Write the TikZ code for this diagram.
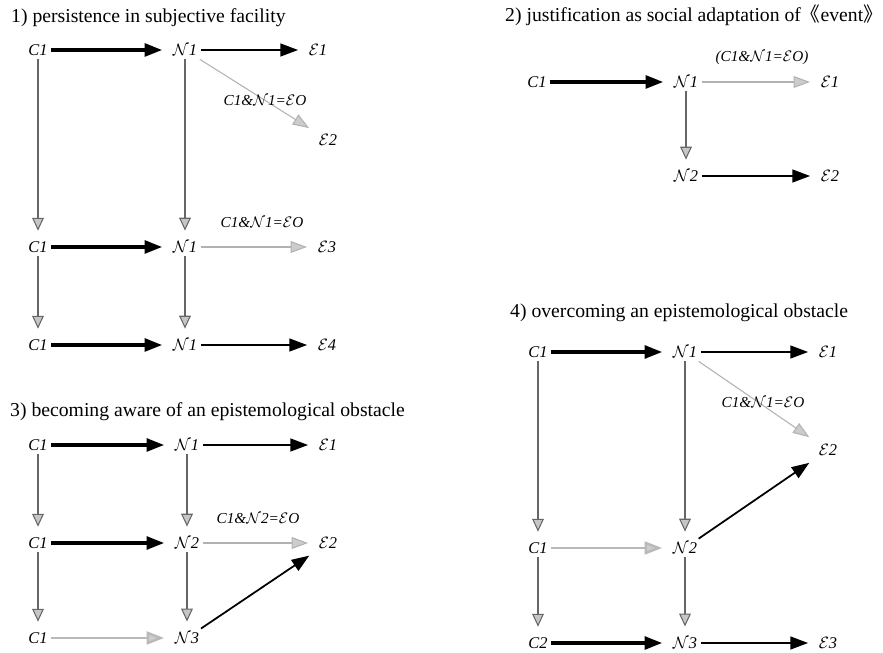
\RequirePackage{fix-cm}
\documentclass[tikz,border=0pt]{standalone}
\usepackage{fontspec}
\setmainfont{Liberation Serif}
\newfontfamily\cjk{Noto Sans CJK SC}
\usetikzlibrary{arrows.meta}

\newcommand{\calN}{\ensuremath{\mathcal{N}}}
\newcommand{\calE}{\ensuremath{\mathcal{E}}}

\tikzset{
  ttl/.style={font=\fontsize{16.8}{19}\selectfont, anchor=west, inner sep=0pt},
  lbl/.style={font=\fontsize{14}{16}\selectfont\itshape, inner sep=3pt},
  eqlbl/.style={font=\fontsize{13}{15}\selectfont\itshape, inner sep=1pt},
  base/.style={shorten >=6pt},
  boldarr/.style={base, line width=2.6pt, -{Triangle[length=15pt,width=11pt]}},
  normarr/.style={base, line width=1.1pt, -{Triangle[length=15pt,width=11pt]}},
  diagarr/.style={base, line width=1.5pt, -{Triangle[length=15pt,width=11pt]}},
  grayarr/.style={base, gray!60, line width=0.9pt, -{Triangle[length=14pt,width=10pt,fill=gray!40]}},
  grayboldarr/.style={base, gray!55, line width=2pt, -{Triangle[length=15pt,width=11pt,fill=gray!40]}},
  downarr/.style={base, black!60, line width=0.9pt, -{Triangle[length=11pt,width=10pt,fill=gray!45]}}
}

\begin{document}
\begin{tikzpicture}[x=0.03cm, y=-0.03cm]
  \useasboundingbox (0,0) rectangle (883,653);

  % 1) persistence in subjective facility
  \node[ttl] (t1) at (11,18) {1) persistence in subjective facility};
  \node[lbl] (a-c1) at (38,50) {C1};
  \node[lbl] (a-n1) at (185,50) {\calN1};
  \node[lbl] (a-e1) at (318,50) {\calE1};
  \node[lbl] (a-e2) at (328,140) {\calE2};
  \node[lbl] (a-c2) at (38,247) {C1};
  \node[lbl] (a-n2) at (185,247) {\calN1};
  \node[lbl] (a-e3) at (327,247) {\calE3};
  \node[lbl] (a-c3) at (38,345) {C1};
  \node[lbl] (a-n3) at (185,345) {\calN1};
  \node[lbl] (a-e4) at (327,345) {\calE4};
  \draw[boldarr] (a-c1) -- (a-n1);
  \draw[normarr] (a-n1) -- (a-e1);
  \draw[grayarr] (a-n1) -- (a-e2);
  \draw[downarr] (a-c1) -- (a-c2);
  \draw[downarr] (a-n1) -- (a-n2);
  \draw[boldarr] (a-c2) -- (a-n2);
  \draw[grayarr] (a-n2) -- (a-e3);
  \draw[downarr] (a-c2) -- (a-c3);
  \draw[downarr] (a-n2) -- (a-n3);
  \draw[boldarr] (a-c3) -- (a-n3);
  \draw[normarr] (a-n3) -- (a-e4);
  \node[eqlbl] (a-eq1) at (265,100) {C1\&\calN1=\calE O};
  \node[eqlbl] (a-eq2) at (262,222) {C1\&\calN1=\calE O};

  % 2) justification as social adaptation
  \node[ttl] (t2) at (505,15) {2) justification as social adaptation of{\cjk 《}event{\cjk 》}};
  \node[lbl] (b-c1) at (537,82) {C1};
  \node[lbl] (b-n1) at (686,82) {\calN1};
  \node[lbl] (b-e1) at (830,82) {\calE1};
  \node[lbl] (b-n2) at (686,176) {\calN2};
  \node[lbl] (b-e2) at (830,176) {\calE2};
  \draw[boldarr] (b-c1) -- (b-n1);
  \draw[grayarr] (b-n1) -- (b-e1);
  \draw[downarr] (b-n1) -- (b-n2);
  \draw[normarr] (b-n2) -- (b-e2);
  \node[eqlbl] (b-eq) at (762,58) {(C1\&\calN1=\calE O)};

  % 3) becoming aware of an epistemological obstacle
  \node[ttl] (t3) at (10,412) {3) becoming aware of an epistemological obstacle};
  \node[lbl] (c-c1) at (38,445) {C1};
  \node[lbl] (c-n1) at (187,445) {\calN1};
  \node[lbl] (c-e1) at (328,445) {\calE1};
  \node[lbl] (c-c2) at (38,543) {C1};
  \node[lbl] (c-n2) at (187,543) {\calN2};
  \node[lbl] (c-e2) at (328,543) {\calE2};
  \node[lbl] (c-c3) at (38,638) {C1};
  \node[lbl] (c-n3) at (187,638) {\calN3};
  \draw[boldarr] (c-c1) -- (c-n1);
  \draw[normarr] (c-n1) -- (c-e1);
  \draw[downarr] (c-c1) -- (c-c2);
  \draw[downarr] (c-n1) -- (c-n2);
  \draw[boldarr] (c-c2) -- (c-n2);
  \draw[grayarr] (c-n2) -- (c-e2);
  \draw[downarr] (c-c2) -- (c-c3);
  \draw[downarr] (c-n2) -- (c-n3);
  \draw[grayboldarr] (c-c3) -- (c-n3);
  \draw[diagarr] (c-n3) -- (c-e2);
  \node[eqlbl] (c-eq) at (258,518) {C1\&\calN2=\calE O};

  % 4) overcoming an epistemological obstacle
  \node[ttl] (t4) at (510,313) {4) overcoming an epistemological obstacle};
  \node[lbl] (d-c1) at (538,352) {C1};
  \node[lbl] (d-n1) at (685,352) {\calN1};
  \node[lbl] (d-e1) at (828,352) {\calE1};
  \node[lbl] (d-e2) at (828,450) {\calE2};
  \node[lbl] (d-c2) at (538,548) {C1};
  \node[lbl] (d-n2) at (685,548) {\calN2};
  \node[lbl] (d-c3) at (538,643) {C2};
  \node[lbl] (d-n3) at (685,643) {\calN3};
  \node[lbl] (d-e3) at (828,643) {\calE3};
  \draw[boldarr] (d-c1) -- (d-n1);
  \draw[normarr] (d-n1) -- (d-e1);
  \draw[grayarr] (d-n1) -- (d-e2);
  \draw[downarr] (d-c1) -- (d-c2);
  \draw[downarr] (d-n1) -- (d-n2);
  \draw[grayboldarr] (d-c2) -- (d-n2);
  \draw[diagarr] (d-n2) -- (d-e2);
  \draw[downarr] (d-c2) -- (d-c3);
  \draw[downarr] (d-n2) -- (d-n3);
  \draw[boldarr] (d-c3) -- (d-n3);
  \draw[normarr] (d-n3) -- (d-e3);
  \node[eqlbl] (d-eq) at (763,402) {C1\&\calN1=\calE O};
\end{tikzpicture}
\end{document}
